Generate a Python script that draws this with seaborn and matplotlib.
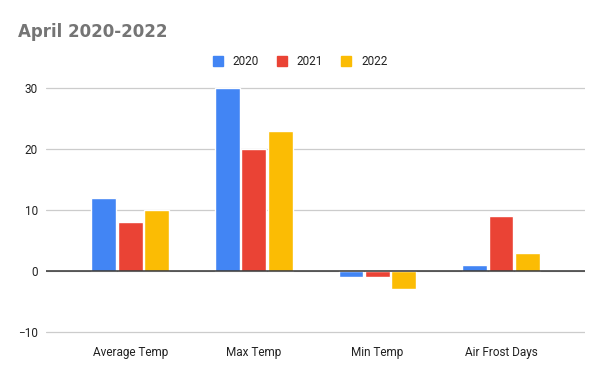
import matplotlib
matplotlib.use('Agg')
import matplotlib.pyplot as plt
import pandas as pd
import seaborn as sns

categories = ['Average Temp', 'Max Temp', 'Min Temp', 'Air Frost Days']
years = ['2020', '2021', '2022']
vals_2020 = [12, 30, -1, 1]
vals_2021 = [8, 20, -1, 9]
vals_2022 = [10, 23, -3, 3]
colors = ['#4285F4', '#EA4335', '#FBBC04']

# long form table for seaborn
rows = []
for year, vals in zip(years, [vals_2020, vals_2021, vals_2022]):
    for cat, v in zip(categories, vals):
        rows.append({'category': cat, 'year': year, 'value': v})
df = pd.DataFrame(rows)

sns.set_style('white')
plt.rcParams['font.family'] = ['Roboto', 'DejaVu Sans']

fig = plt.figure(figsize=(6, 3.71), dpi=100)
ax = fig.add_axes([0.077, 0.097, 0.898, 0.674])

sns.barplot(data=df, x='category', y='value', hue='year', order=categories,
            hue_order=years, palette=colors, width=0.64, gap=0.06,
            saturation=1, ax=ax, legend=False)

ax.set_ylim(-10.5, 30.5)
ax.set_xlim(-0.68, 3.68)
ax.set_yticks([-10, 0, 10, 20, 30])
ax.grid(axis='y', color='#cccccc', linewidth=0.9)
ax.set_axisbelow(True)
ax.axhline(0, color='#333333', linewidth=1.1, zorder=3)
for s in ax.spines.values():
    s.set_visible(False)
ax.tick_params(axis='both', length=0, labelsize=8.5, colors='#222222', pad=6)
ax.tick_params(axis='x', pad=8)
ax.set_xlabel('')
ax.set_ylabel('')

# legend on top
handles = [plt.Rectangle((0, 0), 1, 1, color=c) for c in colors]
fig.legend(handles, years, loc='center', bbox_to_anchor=(0.5, 0.834), ncol=3,
           frameon=False, fontsize=8.5, handlelength=0.9, handleheight=0.9,
           columnspacing=1.5, handletextpad=0.8, labelcolor='#222222')

fig.text(0.03, 0.915, 'April 2020-2022', fontsize=12, fontweight='bold',
         color='#757575', family=['DejaVu Sans'], va='center')

fig.savefig('out.png', dpi=100)
